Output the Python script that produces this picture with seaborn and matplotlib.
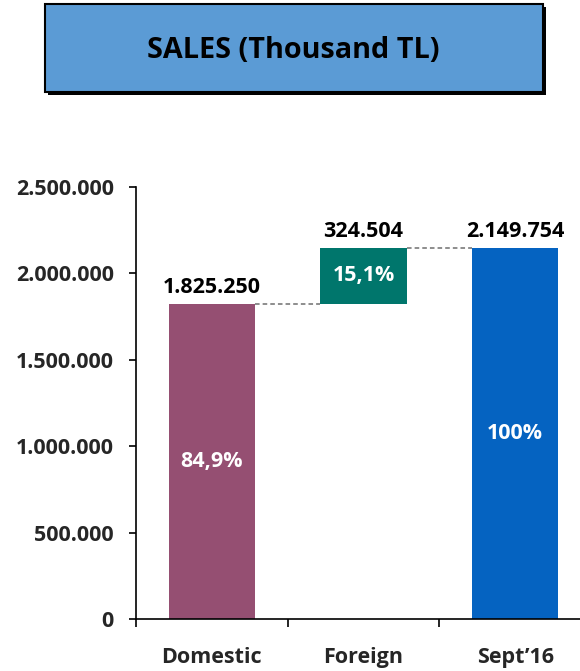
import matplotlib
matplotlib.use("Agg")
import matplotlib.pyplot as plt
from matplotlib.patches import Rectangle
from matplotlib.ticker import FuncFormatter, FixedLocator
import seaborn as sns
import pandas as pd

categories = ["Domestic", "Foreign", "Sept\u201916"]
values = [1825250, 324504, 2149754]
bottoms = [0, 1825250, 0]
value_labels = ["1.825.250", "324.504", "2.149.754"]
pct_labels = ["84,9%", "15,1%", "100%"]
colors = ["#954F72", "#00766C", "#0563C1"]
yticks = [0, 500000, 1000000, 1500000, 2000000, 2500000]
title = "SALES (Thousand TL)"

sns.set_style("white")
plt.rcParams["font.family"] = ["Open Sans", "DejaVu Sans"]
plt.rcParams["font.weight"] = "bold"

FS = 15.5

fig = plt.figure(figsize=(5.8, 6.71), dpi=100)
ax = fig.add_axes([136 / 580, 52 / 671, 455 / 580, 432 / 671])

df = pd.DataFrame({"category": categories, "value": values})
width = 0.57
sns.barplot(data=df, x="category", y="value", order=categories, color="k",
            width=width, bottom=bottoms, ax=ax, saturation=1, linewidth=0)
for p, c in zip(ax.patches, colors):
    p.set_facecolor(c)
    p.set_edgecolor("none")

# connectors
tops = [b + v for b, v in zip(bottoms, values)]
ax.plot([0 + width / 2, 1 - width / 2], [tops[0], tops[0]], ls=(0, (3, 2)), color="#6F6F6F", lw=1.1)
ax.plot([1 + width / 2, 2 - width / 2], [tops[1], tops[1]], ls=(0, (3, 2)), color="#6F6F6F", lw=1.1)

for i in range(3):
    ax.text(i, tops[i] + 30000, value_labels[i], ha="center", va="bottom",
            fontsize=FS, fontweight="bold", color="black")
    ax.text(i, bottoms[i] + values[i] / 2, pct_labels[i], ha="center", va="center",
            fontsize=FS, fontweight="bold", color="white")

ax.set_xlim(-0.5, 2.5)
ax.set_ylim(0, 2500000)
ax.set_yticks(yticks)
ax.yaxis.set_major_formatter(FuncFormatter(lambda v, _: format(int(v), ",").replace(",", ".")))
ax.set_xlabel("")
ax.set_ylabel("")
for s in ["top", "right"]:
    ax.spines[s].set_visible(False)
for s in ["left", "bottom"]:
    ax.spines[s].set_color("black")
    ax.spines[s].set_linewidth(1.2)
ax.tick_params(axis="y", which="major", left=True, length=5, width=1.2, pad=11,
               labelsize=FS, color="black")
ax.tick_params(axis="x", which="major", length=0, pad=20, labelsize=FS)
ax.xaxis.set_minor_locator(FixedLocator([-0.5, 0.5, 1.5]))
ax.tick_params(axis="x", which="minor", bottom=True, length=6, width=1.2, color="black")
for lab in ax.get_xticklabels() + ax.get_yticklabels():
    lab.set_fontweight("bold")
ax.grid(False)

# title box
fig.patches.append(Rectangle((48 / 580, (671 - 95) / 671), 498 / 580, 88 / 671,
                             transform=fig.transFigure, facecolor="black",
                             edgecolor="none", zorder=0))
fig.patches.append(Rectangle((45 / 580, (671 - 92) / 671), 498 / 580, 88 / 671,
                             transform=fig.transFigure, facecolor="#5B9BD5",
                             edgecolor="black", linewidth=1.5, zorder=1))
fig.text(293 / 580, 1 - 50 / 671, title, ha="center", va="center",
         fontsize=20.7, fontweight="bold", color="black", zorder=2)

fig.savefig("out.png", dpi=100)
